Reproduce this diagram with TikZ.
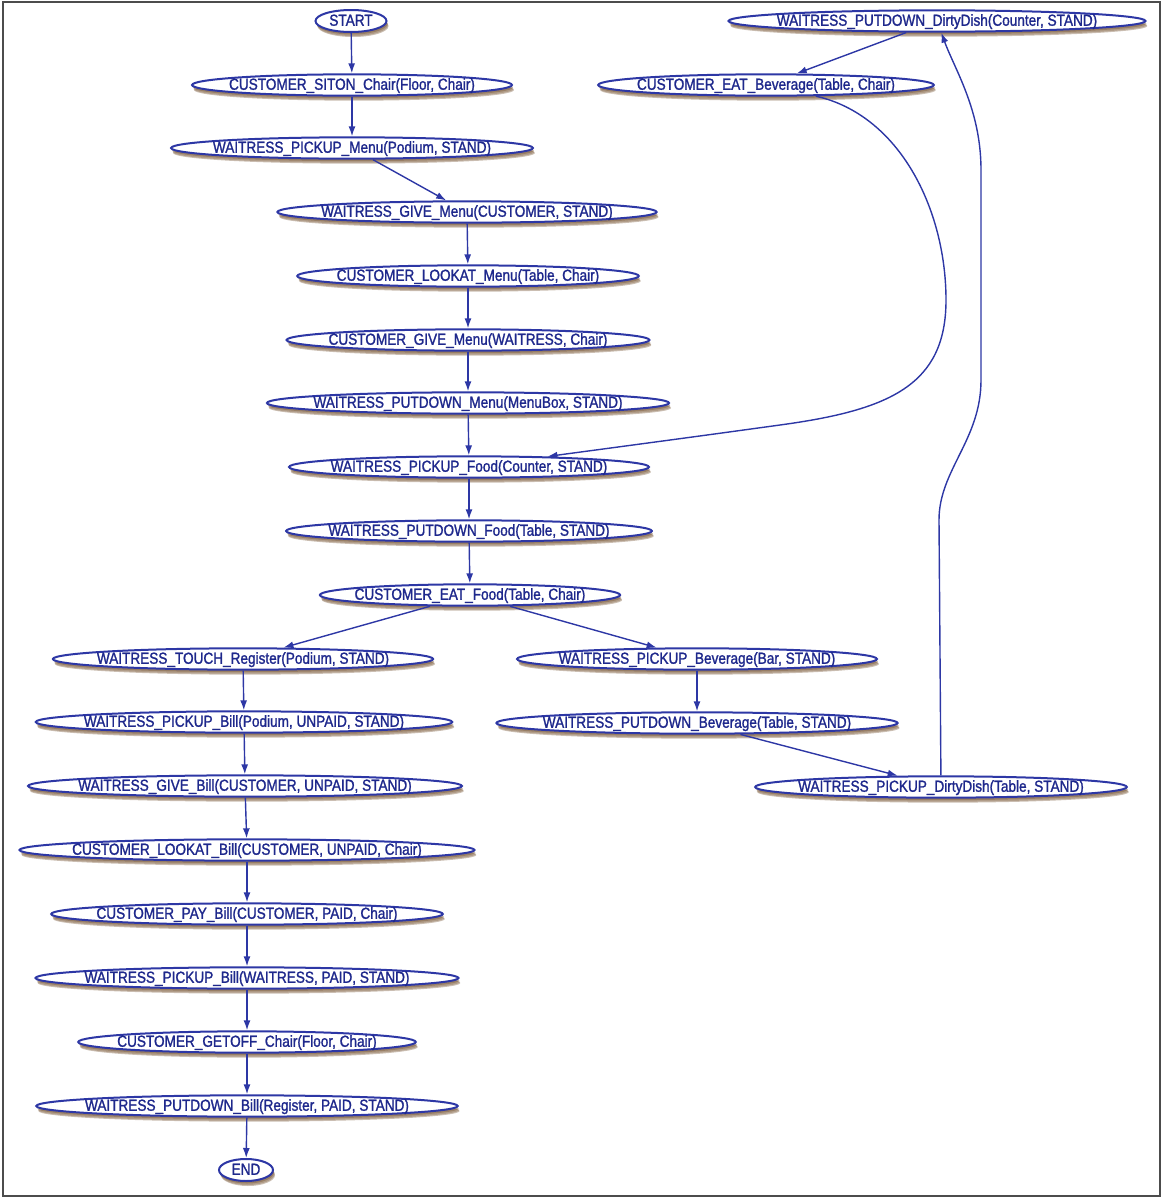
\documentclass[tikz,border=0pt]{standalone}
\usepackage{fontspec}
\setmainfont{Liberation Sans}[FakeStretch=0.85,FakeBold=1.3]
\usetikzlibrary{shapes.geometric,shadows,arrows.meta}
\definecolor{gvblue}{RGB}{45,55,165}
\definecolor{gvtext}{RGB}{30,40,140}
\newcommand{\lbl}[1]{\makebox[.92\width]{#1}}

\begin{document}
\begin{tikzpicture}[->,>={Latex[length=10pt,width=7pt]},x=1pt,y=-1pt,color=gvblue,line width=1.4pt]
\tikzstyle{act}=[ellipse,draw=gvblue,line width=2pt,fill=white,text=gvtext,font=\fontsize{16}{18}\selectfont,inner xsep=0pt,inner ysep=0.3pt,text height=12pt,text depth=2.5pt,
  double copy shadow={shadow xshift=1pt,shadow yshift=-2.5pt,fill=black!45!brown,opacity=0.35,draw=none},
  drop shadow={shadow xshift=1.5pt,shadow yshift=-4pt,fill=black!40!brown,opacity=0.3}]

\useasboundingbox (0,0) rectangle (1163,1197);
\draw[-,line width=2pt,black!70] (3,1.5) rectangle (1160,1195.5);

\node [act] (0) at(351,21)[minimum width=71pt,minimum height=22pt] {START};
\node [act] (1) at(352,85) {\lbl{CUSTOMER\_SITON\_Chair(Floor, Chair)}};
\node [act] (2) at(352,148) {\lbl{WAITRESS\_PICKUP\_Menu(Podium, STAND)}};
\node [act] (3) at(467,212) {\lbl{WAITRESS\_GIVE\_Menu(CUSTOMER, STAND)}};
\node [act] (4) at(468,276) {\lbl{CUSTOMER\_LOOKAT\_Menu(Table, Chair)}};
\node [act] (5) at(468,340) {\lbl{CUSTOMER\_GIVE\_Menu(WAITRESS, Chair)}};
\node [act] (6) at(468,403) {\lbl{WAITRESS\_PUTDOWN\_Menu(MenuBox, STAND)}};
\node [act] (7) at(469,467) {\lbl{WAITRESS\_PICKUP\_Food(Counter, STAND)}};
\node [act] (8) at(469,531) {\lbl{WAITRESS\_PUTDOWN\_Food(Table, STAND)}};
\node [act] (9) at(470,595) {\lbl{CUSTOMER\_EAT\_Food(Table, Chair)}};
\node [act] (10) at(243,659) {\lbl{WAITRESS\_TOUCH\_Register(Podium, STAND)}};
\node [act] (11) at(244,722) {\lbl{WAITRESS\_PICKUP\_Bill(Podium, UNPAID, STAND)}};
\node [act] (12) at(245,786) {\lbl{WAITRESS\_GIVE\_Bill(CUSTOMER, UNPAID, STAND)}};
\node [act] (13) at(247,850) {\lbl{CUSTOMER\_LOOKAT\_Bill(CUSTOMER, UNPAID, Chair)}};
\node [act] (14) at(247,914) {\lbl{CUSTOMER\_PAY\_Bill(CUSTOMER, PAID, Chair)}};
\node [act] (15) at(247,978) {\lbl{WAITRESS\_PICKUP\_Bill(WAITRESS, PAID, STAND)}};
\node [act] (16) at(247,1042) {\lbl{CUSTOMER\_GETOFF\_Chair(Floor, Chair)}};
\node [act] (17) at(247,1106) {\lbl{WAITRESS\_PUTDOWN\_Bill(Register, PAID, STAND)}};
\node [act] (18) at(246,1170)[minimum width=54pt,minimum height=22pt] {END};
\node [act] (19) at(697,659) {\lbl{WAITRESS\_PICKUP\_Beverage(Bar, STAND)}};
\node [act] (20) at(697,723) {\lbl{WAITRESS\_PUTDOWN\_Beverage(Table, STAND)}};
\node [act] (21) at(941,787) {\lbl{WAITRESS\_PICKUP\_DirtyDish(Table, STAND)}};
\node [act] (22) at(937,21) {\lbl{WAITRESS\_PUTDOWN\_DirtyDish(Counter, STAND)}};
\node [act] (23) at(766,85) {\lbl{CUSTOMER\_EAT\_Beverage(Table, Chair)}};

\path (0) edge (1);
\path (1) edge (2);
\path (2) edge (3);
\path (3) edge (4);
\path (4) edge (5);
\path (5) edge (6);
\path (6) edge (7);
\path (7) edge (8);
\path (8) edge (9);
\path (9) edge (10);
\path (9) edge (19);
\path (10) edge (11);
\path (11) edge (12);
\path (12) edge (13);
\path (13) edge (14);
\path (14) edge (15);
\path (15) edge (16);
\path (16) edge (17);
\path (17) edge (18);
\path (19) edge (20);
\path (20) edge (21);
\path (22) edge (23);
\draw (21) -- (939,520) .. controls (939,470) and (981,440) .. (981,380) -- (981,170) .. controls (981,110) and (955,70) .. (22);
\draw (23) .. controls (900,115) and (946,210) .. (946,300) .. controls (946,385) and (890,410) .. (780,425) .. controls (700,436) .. (7);
\end{tikzpicture}
\end{document}
